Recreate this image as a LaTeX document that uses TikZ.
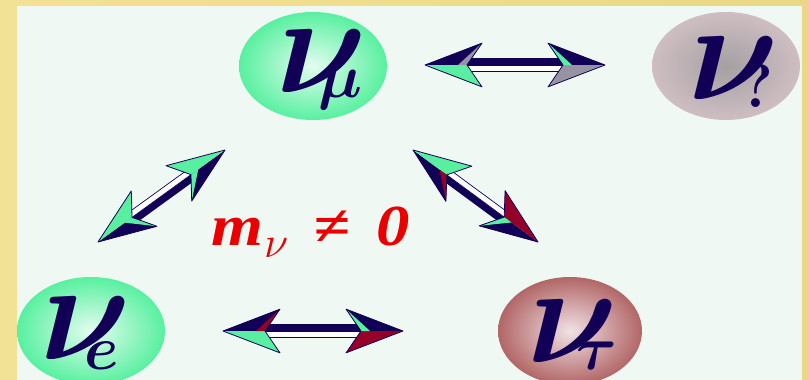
\RequirePackage{fix-cm}
\documentclass[tikz,border=0pt]{standalone}
\usepackage{bm}
\usepackage{fontspec}
\setmainfont{Liberation Serif}
\newfontfamily\massfont{Liberation Serif}[FakeStretch=1.15]
\usetikzlibrary{calc,shapes.geometric}
\definecolor{nuink}{RGB}{17,0,85}
\definecolor{nugreen}{RGB}{88,240,160}
\definecolor{nugreenlt}{RGB}{228,252,240}
\definecolor{nured}{RGB}{150,0,40}
\definecolor{nutau}{RGB}{178,102,102}
\definecolor{nutault}{RGB}{240,226,230}
\definecolor{nugrey}{RGB}{150,148,160}
\definecolor{nuquery}{RGB}{206,190,194}
\definecolor{nuquerydk}{RGB}{165,160,162}
\definecolor{panel}{RGB}{240,248,244}
\definecolor{goldA}{RGB}{242,226,150}
\definecolor{goldB}{RGB}{236,214,136}
\definecolor{massred}{RGB}{235,0,0}

% one arrow head: tip, other end, navy side angle, facet side angle, facet colour, sliver colour
\newcommand{\nuhead}[6]{%
  \fill[nuink] (#1) -- ($(#1)!61pt!#3:(#2)$) -- ($(#1)!42pt!(#2)$) -- cycle;
  \fill[#5] (#1) -- ($(#1)!61pt!#4:(#2)$) -- ($(#1)!42pt!(#2)$) -- cycle;
  \fill[#6] ($(#1)!61pt!#3:(#2)$) -- ($(#1)!42pt!(#2)$) -- ($(#1)!33pt!(#2)$) -- cycle;
  \draw[nuink,line width=0.8pt] (#1) -- ($(#1)!61pt!#3:(#2)$) -- ($(#1)!42pt!(#2)$) -- ($(#1)!61pt!#4:(#2)$) -- cycle;
}
% shaft between two tips: from, to, navy side angle, white side angle
\newcommand{\nushaft}[4]{%
  \coordinate (sa) at ($(#1)!40pt!(#2)$);
  \coordinate (sb) at ($(#2)!40pt!(#1)$);
  \coordinate (sn) at ($(sa)!7pt!#3:(sb)$);
  \coordinate (sw) at ($(sa)!6pt!#4:(sb)$);
  \fill[nuink] (sa) -- (sn) -- ($(sn)+(sb)-(sa)$) -- (sb) -- cycle;
  \filldraw[fill=white,draw=nuink,line width=0.7pt] (sa) -- (sw) -- ($(sw)+(sb)-(sa)$) -- (sb) -- cycle;
}
% nu with its flavour: shift of the subscript, drop of the subscript, subscript
\newcommand{\nuflav}[3]{\rlap{$\bm{\nu}$}\hspace{#1}\raisebox{-#2}{\fontsize{62}{62}\selectfont$\bm{#3}$}}

\tikzset{
  nuball/.style={ellipse,inner sep=0pt,minimum width=148pt,minimum height=108pt},
  nulabel/.style={font=\fontsize{140}{140}\selectfont,text=nuink,inner sep=0pt,anchor=base west},
  masstext/.style={font=\fontsize{58}{58}\selectfont\massfont\bfseries\itshape,text=massred,inner sep=0pt,anchor=base west}
}

\begin{document}
\begin{tikzpicture}[x=1pt,y=-1pt,line join=round]
\useasboundingbox (0,0) rectangle (809,380);
\shade[left color=goldA,right color=goldB] (0,0) rectangle (809,380);
\fill[panel] (17,6) rectangle (802,380);

% the four flavours
\node[nuball,inner color=nugreenlt,outer color=nugreen] (numu) at (313,66) {};
\node[nuball,inner color=nuquerydk,outer color=nuquery] (nuq) at (726,66) {};
\node[nuball,inner color=nugreenlt,outer color=nugreen] (nue) at (91,331) {};
\node[nuball,inner color=nutault,outer color=nutau,minimum width=144pt] (nutau) at (570,331) {};

\node[nulabel] (numu-l) at (276,92) {\nuflav{42pt}{5pt}{\mu}};
\node[nulabel] (nuq-l) at (688,99) {\nuflav{52pt}{8pt}{?}};
\node[nulabel] (nue-l) at (40,359) {\nuflav{44pt}{10pt}{e}};
\node[nulabel] (nutau-l) at (527,362) {\nuflav{49pt}{7pt}{\tau}};

% arrow tips
\coordinate (mq1) at (425,65);
\coordinate (mq2) at (605,65);
\coordinate (et1) at (223,331);
\coordinate (et2) at (403,331);
\coordinate (em1) at (98,242);
\coordinate (em2) at (225,150);
\coordinate (mt1) at (413,150);
\coordinate (mt2) at (538,242);

\nushaft{mq1}{mq2}{90}{-90}
\nushaft{et1}{et2}{90}{-90}
\nushaft{em1}{em2}{-90}{90}
\nushaft{mt1}{mt2}{-90}{90}

\nuhead{mq1}{mq2}{21}{-21}{nugreen}{nugrey}
\nuhead{mq2}{mq1}{-21}{21}{nugrey}{nugreen}
\nuhead{et1}{et2}{21}{-21}{nugreen}{nured}
\nuhead{et2}{et1}{-21}{21}{nured}{nugreen}
\nuhead{em2}{em1}{21}{-21}{nugreen}{nugreen}
\nuhead{em1}{em2}{-21}{21}{nugreen}{nugreen}
\nuhead{mt1}{mt2}{-21}{21}{nugreen}{nured}
\nuhead{mt2}{mt1}{21}{-21}{nured}{nugreen}

\node[masstext] (mass) at (211,245) {\rlap{m}\hspace{53pt}\rlap{\raisebox{-12pt}{\fontsize{44}{44}\selectfont$\nu$}}\hspace{49pt}\rlap{≠}\hspace{63pt}0};
\end{tikzpicture}
\end{document}
